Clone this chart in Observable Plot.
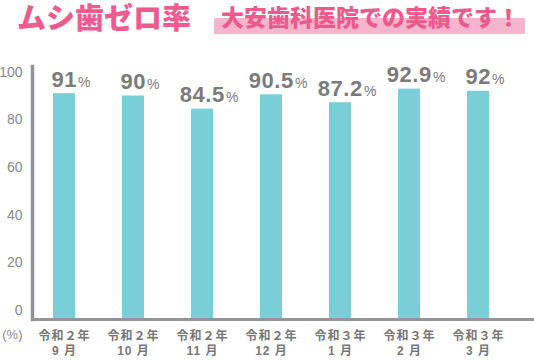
<!DOCTYPE html>
<html><head><meta charset="utf-8">
<script src="https://cdn.jsdelivr.net/npm/d3@7"></script>
<script src="https://cdn.jsdelivr.net/npm/@observablehq/plot@0.6"></script>
<style>
body{margin:0;background:#fff;width:534px;height:360px;overflow:hidden}
#header{position:relative;height:40px;font-family:"Noto Sans CJK JP",sans-serif}
#header .t1{position:absolute;left:17px;top:3px;font-family:"Liberation Sans","Noto Sans CJK JP",sans-serif;font-size:29px;line-height:1.117;font-weight:900;color:#ee5b8f;white-space:nowrap}
#header .hl{position:absolute;left:214px;top:18px;width:311px;height:16px;background:#f7b4cd}
#header .t2{position:absolute;left:221px;top:4.3px;font-size:23px;line-height:1.1;font-weight:900;color:#ec5a8c;white-space:nowrap}
g[aria-label="x-axis tick label"] text{letter-spacing:1px}
</style></head><body>
<div id="header"><span class="t1">ムシ歯ゼロ率</span><div class="hl"></div><span class="t2">大安歯科医院での実績です！</span></div>
<div id="chart"></div>
<script>
const months = ["令和２年\n9 月","令和２年\n10 月","令和２年\n11 月","令和２年\n12 月","令和３年\n1 月","令和３年\n2 月","令和３年\n3 月"];
const rates = [91, 90, 84.5, 90.5, 87.2, 92.9, 92];
const yTicks = [0, 20, 40, 60, 80, 100];
const unitLabel = ["(%)"];
const data = months.map((m, i) => ({month: m, rate: rates[i]}));

const chart = Plot.plot({
  width: 534, height: 320,
  marginLeft: 32, marginRight: 0, marginTop: 26, marginBottom: 41,
  style: {fontFamily: "'Liberation Sans', Arial, sans-serif", background: "#fff", overflow: "visible"},
  x: {domain: months, range: [32, 510], paddingInner: 0.684, paddingOuter: 0.273, label: null},
  y: {domain: [0, 100], range: [270, 31.7], label: null},
  marks: [
    Plot.barY(data, {x: "month", y: "rate", fill: "#79ced7", insetBottom: -9}),
    Plot.axisY({ticks: yTicks, tickSize: 0, tickPadding: 10, fontSize: 14, color: "#888", label: null}),
    Plot.axisX({tickSize: 0, tickPadding: 9.5, fontSize: 12, fontWeight: "bold", fontFamily: "'Liberation Sans', 'Noto Sans CJK JP', sans-serif", color: "#777", lineHeight: 1.25, label: null}),
    Plot.frame({anchor: "left", stroke: "#939398", strokeWidth: 3.5}),
    Plot.frame({anchor: "bottom", stroke: "#939398", strokeWidth: 3}),
    Plot.text(unitLabel, {text: d => d, frameAnchor: "bottom-left", textAnchor: "end", dx: -10, dy: 19, fontSize: 13, fill: "#888"}),
    Plot.text(data, {x: "month", y: "rate", text: d => String(d.rate), dy: -7, dx: 6.5, lineAnchor: "bottom", fontSize: 22, fontWeight: "bold", fill: "#7b7b7b"})
  ]
});
const rateStrings = new Set(rates.map(String));
d3.select(chart).selectAll("text").filter(function () {
  return this.childElementCount === 0 && rateStrings.has(this.textContent);
}).each(function () {
  d3.select(this).style("letter-spacing", "0.6px")
    .append("tspan").attr("dx", 1).attr("font-size", 14).attr("font-weight", 400).style("letter-spacing", "0").text("%");
});
document.getElementById("chart").appendChild(chart);
</script>
</body></html>
